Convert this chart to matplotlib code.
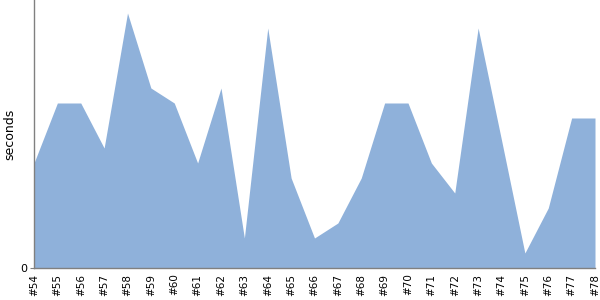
import matplotlib
matplotlib.use('Agg')
import matplotlib.pyplot as plt
import numpy as np

builds = ['#54', '#55', '#56', '#57', '#58', '#59', '#60', '#61', '#62', '#63',
          '#64', '#65', '#66', '#67', '#68', '#69', '#70', '#71', '#72', '#73',
          '#74', '#75', '#76', '#77', '#78']
seconds = [105, 165, 165, 120, 255, 180, 165, 105, 180, 30,
           240, 90, 30, 45, 90, 165, 165, 105, 75, 240,
           128, 15, 60, 150, 150]

x = np.arange(len(builds))

fig = plt.figure(figsize=(6, 3), dpi=100)
ax = fig.add_axes([34 / 600, 32 / 300, 561 / 600, 268 / 300])
ax.fill_between(x, seconds, 0, color='#8fb1da', linewidth=0)

ax.set_xlim(0, len(builds) - 1)
ax.set_ylim(0, 268)
ax.set_xticks(x)
ax.set_xticklabels(builds, rotation=90, fontsize=7.5)
ax.set_yticks([0])
ax.set_yticklabels(['0'], fontsize=8)
ax.tick_params(axis='x', length=0, pad=4)
ax.tick_params(axis='y', length=3, color='#808080', pad=2)

# y label placed by hand so it stays inside the figure
fig.text(10 / 600, 0.553, 'seconds', rotation=90, ha='center', va='center', fontsize=9)

for s in ['top', 'right']:
    ax.spines[s].set_visible(False)
for s in ['left', 'bottom']:
    ax.spines[s].set_color('#808080')
    ax.spines[s].set_linewidth(1)

fig.savefig('out.png', dpi=100)
